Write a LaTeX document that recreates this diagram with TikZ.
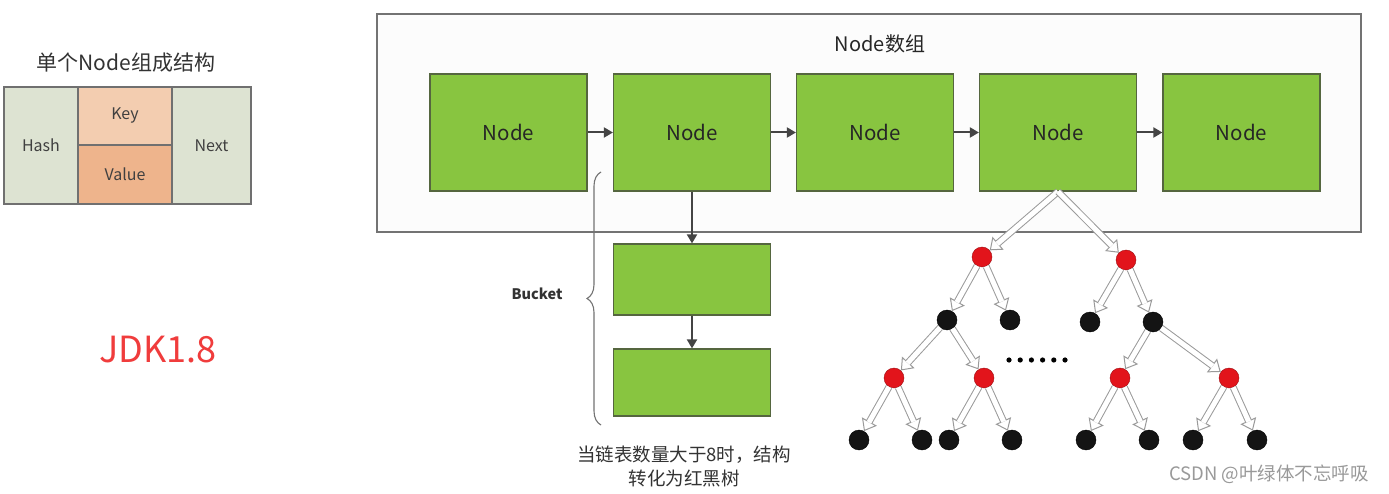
\documentclass[tikz,border=0pt]{standalone}
\usepackage{fontspec}
\setmainfont{Noto Sans CJK SC}
\usetikzlibrary{arrows.meta,decorations.pathreplacing}
\definecolor{ngreen}{HTML}{88C540}
\definecolor{ngreenb}{HTML}{55663F}
\definecolor{hashc}{HTML}{DDE3D2}
\definecolor{keyc}{HTML}{F3CDB0}
\definecolor{valc}{HTML}{EEB48C}
\definecolor{tblb}{HTML}{707070}
\definecolor{jdkred}{HTML}{F03C3C}
\definecolor{arrowc}{HTML}{444444}
\definecolor{rnode}{HTML}{E2141B}
\definecolor{hollowc}{HTML}{9A9A9A}
\tikzset{
  greenbox/.style={draw=ngreenb, fill=ngreen, line width=1.2pt, minimum width=157pt, inner sep=0pt, font=\fontsize{20.5}{24}\selectfont, text=black!85},
  cell/.style={draw=tblb, line width=1.2pt, inner sep=0pt, font=\fontsize{16}{19}\selectfont, text=black!75},
  darrow/.style={draw=arrowc, line width=2pt, -{Triangle[length=9pt,width=10pt]}},
  rb/.style={circle, draw=rnode!70!black, fill=rnode, minimum size=20pt, inner sep=0pt},
  bk/.style={circle, draw=black, fill=black!92, minimum size=20pt, inner sep=0pt},
  hshaft/.style={draw=hollowc, line width=7pt, -{Triangle[length=11pt,width=17pt,fill=white,line width=1pt]}},
  hinner/.style={draw=white, line width=5pt, shorten >=10pt}
}
\newcommand{\hollowarrow}[2]{%
  \draw[hshaft] (#1) -- (#2);
  \draw[hinner] (#1) -- (#2);
}
\begin{document}
\begin{tikzpicture}[x=1pt,y=-1pt]
\useasboundingbox[fill=white] (0,0) rectangle (1389,494);

% left: single node structure
\node[font=\fontsize{21}{24}\selectfont, text=black!80] (title) at (126,63) {单个Node组成结构};
\node[cell, fill=hashc, minimum width=74pt, minimum height=117pt] (hash) at (41,145.5) {Hash};
\node[cell, fill=keyc, minimum width=94pt, minimum height=58pt] (key) at (125,116) {Key};
\node[cell, fill=valc, minimum width=94pt, minimum height=59pt] (value) at (125,174.5) {Value};
\node[cell, fill=hashc, minimum width=79pt, minimum height=117pt] (next) at (211.5,145.5) {Next};

\node[text=jdkred, font=\fontsize{36}{40}\selectfont] (jdk) at (158,350) {JDK1.8};

% outer array box
\node[draw=black!55, fill=black!1, line width=1.3pt, minimum width=984pt, minimum height=218pt, inner sep=0pt] (array) at (869,123) {};
\node[font=\fontsize{20}{23}\selectfont, text=black!85] (arrtitle) at (880,44) {Node数组};

\node[greenbox, minimum height=117pt] (n1) at (508.5,132.5) {Node};
\node[greenbox, minimum height=117pt] (n2) at (692,132.5) {Node};
\node[greenbox, minimum height=117pt] (n3) at (875,132.5) {Node};
\node[greenbox, minimum height=117pt] (n4) at (1058,132.5) {Node};
\node[greenbox, minimum height=117pt] (n5) at (1241.5,132.5) {Node};

\draw[darrow] (n1) -- (n2);
\draw[darrow] (n2) -- (n3);
\draw[darrow] (n3) -- (n4);
\draw[darrow] (n4) -- (n5);

% bucket
\node[greenbox, minimum height=71pt] (b1) at (692,279.5) {};
\node[greenbox, minimum height=67pt] (b2) at (692,382.5) {};
\draw[darrow] (n2) -- (b1);
\draw[darrow] (b1) -- (b2);

\coordinate (bracebot) at (601,425);
\coordinate (bracetop) at (601,172);
\draw[decorate, decoration={brace, amplitude=14pt}, draw=black!55, line width=1.1pt] (bracebot) -- (bracetop);
\node[font=\fontsize{14.5}{16}\selectfont\bfseries, text=black!80] (bucket) at (537,294) {Bucket};

\node[font=\fontsize{18.5}{24}\selectfont, text=black!80, align=center] (note) at (684,466) {当链表数量大于8时，结构\\转化为红黑树};

% tree
\coordinate (root) at (n4.south);
\node[rb] (r1) at (982,257) {};
\node[rb] (r2) at (1126,260) {};
\node[bk] (a) at (947,320) {};
\node[bk] (b) at (1010,320) {};
\node[bk] (c) at (1090,322) {};
\node[bk] (d) at (1153,322) {};
\node[rb] (r3) at (894,378) {};
\node[rb] (r4) at (984,378) {};
\node[rb] (r5) at (1120,378) {};
\node[rb] (r6) at (1229,378) {};
\node[bk] (l1) at (859,440) {};
\node[bk] (l2) at (922,440) {};
\node[bk] (l3) at (949,440) {};
\node[bk] (l4) at (1012,440) {};
\node[bk] (l5) at (1086,440) {};
\node[bk] (l6) at (1149,440) {};
\node[bk] (l7) at (1193,440) {};
\node[bk] (l8) at (1257,440) {};

\hollowarrow{root}{r1}
\hollowarrow{root}{r2}
\hollowarrow{r1}{a}
\hollowarrow{r1}{b}
\hollowarrow{r2}{c}
\hollowarrow{r2}{d}
\hollowarrow{a}{r3}
\hollowarrow{a}{r4}
\hollowarrow{d}{r5}
\hollowarrow{d}{r6}
\hollowarrow{r3}{l1}
\hollowarrow{r3}{l2}
\hollowarrow{r4}{l3}
\hollowarrow{r4}{l4}
\hollowarrow{r5}{l5}
\hollowarrow{r5}{l6}
\hollowarrow{r6}{l7}
\hollowarrow{r6}{l8}

\foreach \i in {0,...,5} {\fill[black] (1009+\i*11.2,360) circle (2.6pt);}

\node[font=\fontsize{18.5}{20}\selectfont, text=black!40] (mark) at (1269,474) {CSDN @叶绿体不忘呼吸};
\end{tikzpicture}
\end{document}
